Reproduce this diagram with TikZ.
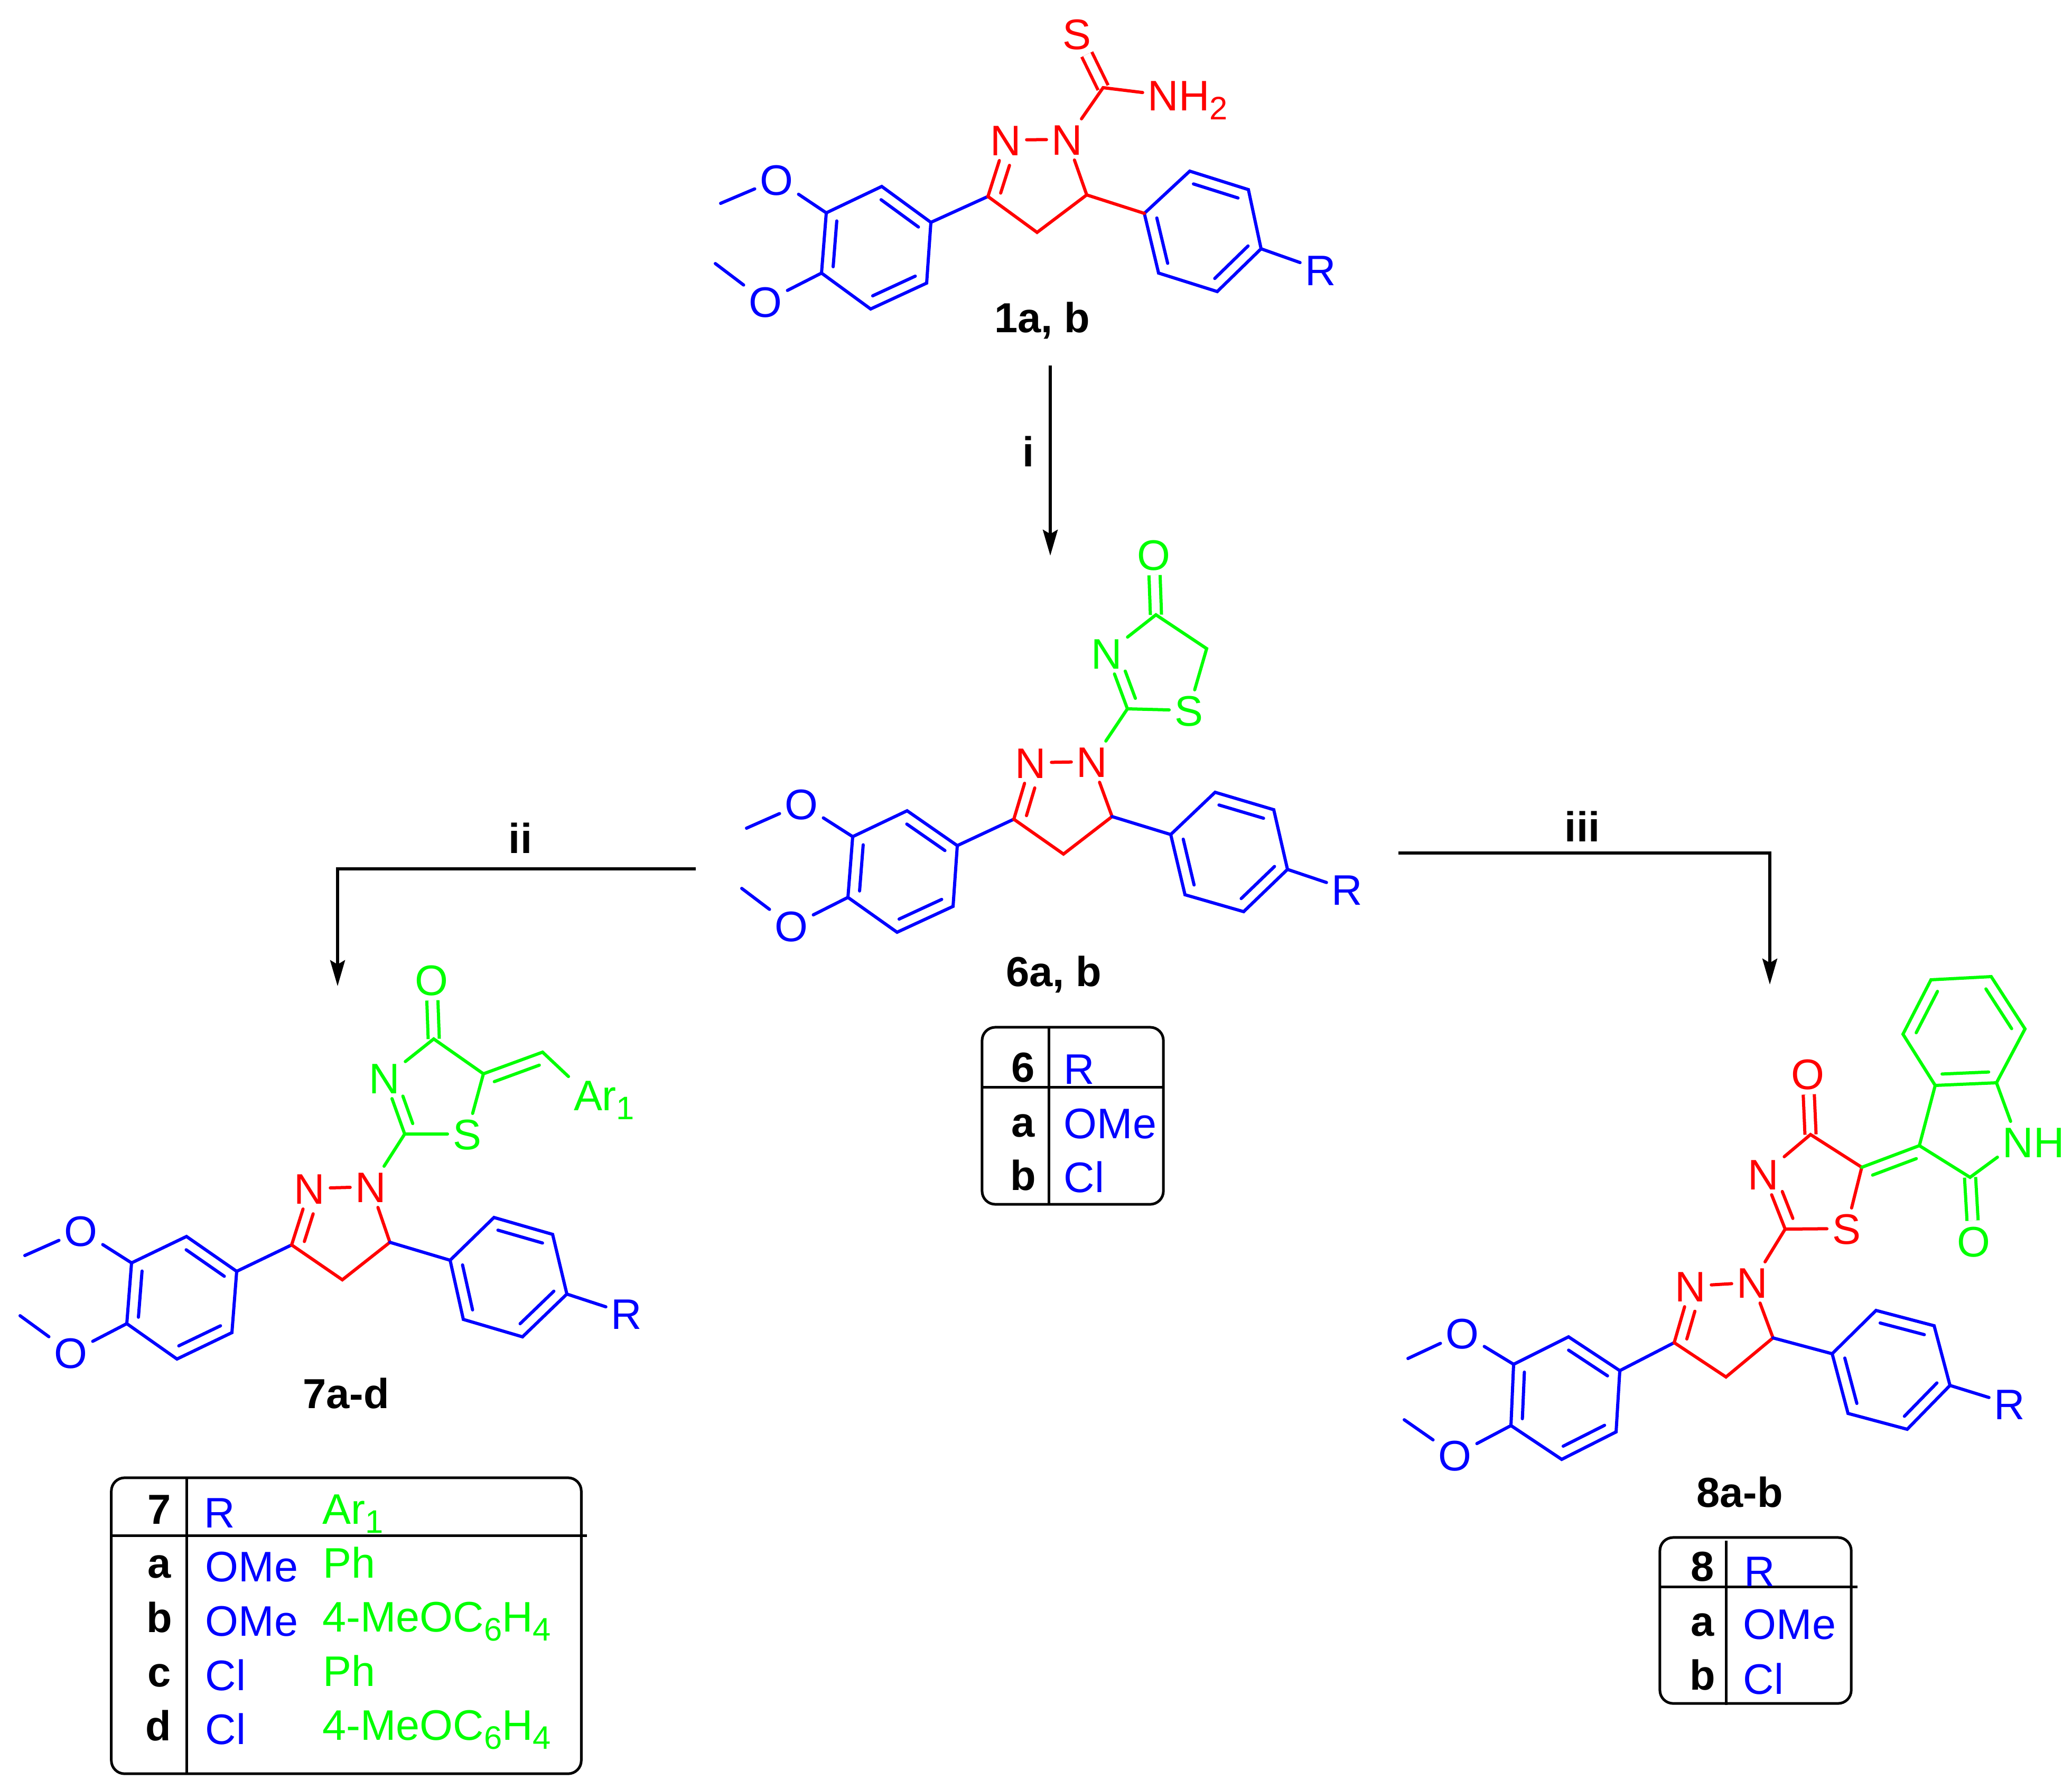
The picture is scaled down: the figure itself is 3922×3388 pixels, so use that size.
\documentclass[tikz,border=0pt]{standalone}
\usepackage{fontspec}
\setmainfont{Liberation Sans}
\usetikzlibrary{arrows.meta, calc}
\tikzset{
  >={Stealth[length=.49cm, width=.28cm, inset=.08cm]},
  every node/.style={font=\fontsize{23pt}{27pt}\selectfont},
  atom/.style={inner sep=.1cm, outer sep=0pt, text height=.58cm, text depth=0pt},
  bond/.style={line width=.06cm, line cap=round},
  dbl/.style={bond, line cap=butt, double, double distance=.15cm},
  reaction/.style={->, line width=.055cm},
  molname/.style={font=\fontsize{22.6pt}{27pt}\selectfont\bfseries, anchor=base, inner sep=0pt},
  tabtext/.style={anchor=base west, inner sep=0pt},
  tablebox/.style={draw, line width=.05cm, rounded corners=.25cm, inner sep=0pt, outer sep=0pt},
  tableline/.style={line width=.05cm},
}
\newcommand{\subnum}[1]{\raisebox{-.22em}{\fontsize{17.5pt}{20pt}\selectfont #1}}
% inner line of a double bond, on the left of a->b
\newcommand{\inbond}[3][.12]{\draw[bond] ($(#2)!#1!(#3)!.21cm!90:(#3)$) -- ($(#3)!.12!(#2)!.21cm!-90:(#2)$);}
% the two aryl rings and the pyrazoline ring
\newcommand{\corebonds}[2]{
  \begin{scope}[blue]
    \draw[bond] (#1B1) -- (#1B2) -- (#1B3) -- (#1B4) -- (#1B5) -- (#1B6) -- cycle;
    \inbond{#1B1}{#1B2}
    \inbond{#1B3}{#1B4}
    \inbond{#1B5}{#1B6}
    \draw[bond] (#1A1) -- (#1A2) -- (#1A3) -- (#1A4) -- (#1A5) -- (#1A6) -- cycle;
    \inbond{#1A3}{#1A2}
    \inbond{#1A5}{#1A4}
    \inbond{#1A1}{#1A6}
    \draw[bond] (#1Me1) -- (#1O1) -- (#1B3);
    \draw[bond] (#1Me2) -- (#1O2) -- (#1B4);
    \draw[bond] (#1A4) -- (#1R);
    \draw[bond] (#1C3) -- (#1B1);
  \end{scope}
  \begin{scope}[red]
    \draw[bond] (#1N1) -- (#1N2);
    \draw[bond] (#1N2) -- (#1C5) -- (#1C4) -- (#1C3) -- (#1N1);
    \inbond[.39]{#1N1}{#1C3}
  \end{scope}
  \draw[bond, #2] (#1C5) -- (#1A1);
}

\begin{document}
\begin{tikzpicture}[x=.01cm, y=-.01cm]
	\useasboundingbox (0,0) rectangle (3922,3388);

	% compound 1
	\coordinate (m1B1) at (1762,421);
	\coordinate (m1B2) at (1669,353);
	\coordinate (m1B3) at (1564,403);
	\coordinate (m1B4) at (1555,517);
	\coordinate (m1B5) at (1648,585);
	\coordinate (m1B6) at (1754,536);
	\coordinate (m1A1) at (2166,404);
	\coordinate (m1A2) at (2252,324);
	\coordinate (m1A3) at (2363,359);
	\coordinate (m1A4) at (2387,471);
	\coordinate (m1A5) at (2304,552);
	\coordinate (m1A6) at (2193,517);
	\coordinate (m1C3) at (1870,372);
	\coordinate (m1C4) at (1963,440);
	\coordinate (m1C5) at (2057,369);
	\coordinate (m1Me1) at (1364,385);
	\coordinate (m1Me2) at (1354,499);
	\coordinate (m1C) at (2088,166);
	\node[atom, blue] (m1O1) at (1470,340) {O};
	\node[atom, blue] (m1O2) at (1449,571) {O};
	\node[atom, blue] (m1R) at (2500,511) {R};
	\node[atom, red] (m1N1) at (1904,265) {N};
	\node[atom, red] (m1N2) at (2020,264) {N};
	\node[atom, red] (m1S) at (2038,64) {S};
	\node[atom, red] (m1NH) at (2202,180) {N\rlap{H\subnum{2}}};
	\draw[dbl, red] (m1S) -- (m1C);
	\draw[bond, red] (m1N2) -- (m1C) -- (m1NH);
	\corebonds{m1}{red}
	\node[molname] (m1name) at (1973,629) {1a, b};

	% compound 6
	\coordinate (m6B1) at (1812,1601);
	\coordinate (m6B2) at (1717,1535);
	\coordinate (m6B3) at (1614,1584);
	\coordinate (m6B4) at (1605,1699);
	\coordinate (m6B5) at (1698,1765);
	\coordinate (m6B6) at (1804,1716);
	\coordinate (m6A1) at (2216,1580);
	\coordinate (m6A2) at (2300,1500);
	\coordinate (m6A3) at (2411,1533);
	\coordinate (m6A4) at (2437,1646);
	\coordinate (m6A5) at (2354,1726);
	\coordinate (m6A6) at (2243,1694);
	\coordinate (m6C3) at (1919,1551);
	\coordinate (m6C4) at (2013,1617);
	\coordinate (m6C5) at (2105,1546);
	\coordinate (m6Me1) at (1413,1568);
	\coordinate (m6Me2) at (1404,1682);
	\coordinate (m6tC2) at (2134,1342);
	\coordinate (m6tC4) at (2188,1164);
	\coordinate (m6tC5) at (2284,1228);
	\node[atom, blue] (m6O1) at (1517,1522) {O};
	\node[atom, blue] (m6O2) at (1498,1753) {O};
	\node[atom, blue] (m6R) at (2550,1684) {R};
	\node[atom, red] (m6N1) at (1951,1444) {N};
	\node[atom, red] (m6N2) at (2067,1442) {N};
	\node[atom, green] (m6tN) at (2095,1237) {N};
	\node[atom, green] (m6tS) at (2250,1345) {S};
	\node[atom, green] (m6tO) at (2184,1050) {O};
	\draw[dbl, green] (m6tO) -- (m6tC4);
	\draw[bond, green] (m6N2) -- (m6tC2) -- (m6tN) -- (m6tC4) -- (m6tC5) -- (m6tS) -- (m6tC2);
	\begin{scope}[green]
		\inbond[.39]{m6tN}{m6tC2}
	\end{scope}
	\corebonds{m6}{blue}
	\node[molname] (m6name) at (1995,1867) {6a, b};

	% compound 7
	\coordinate (m7B1) at (448,2407);
	\coordinate (m7B2) at (353,2341);
	\coordinate (m7B3) at (249,2391);
	\coordinate (m7B4) at (240,2506);
	\coordinate (m7B5) at (335,2573);
	\coordinate (m7B6) at (439,2523);
	\coordinate (m7A1) at (852,2386);
	\coordinate (m7A2) at (935,2305);
	\coordinate (m7A3) at (1046,2337);
	\coordinate (m7A4) at (1073,2450);
	\coordinate (m7A5) at (989,2531);
	\coordinate (m7A6) at (877,2498);
	\coordinate (m7C3) at (552,2357);
	\coordinate (m7C4) at (648,2423);
	\coordinate (m7C5) at (738,2352);
	\coordinate (m7Me1) at (47,2377);
	\coordinate (m7Me2) at (38,2491);
	\coordinate (m7tC2) at (766,2147);
	\coordinate (m7tC4) at (821,1967);
	\coordinate (m7tC5) at (915,2033);
	\coordinate (m7CH) at (1027,1992);
	\node[atom, blue] (m7O1) at (153,2330) {O};
	\node[atom, blue] (m7O2) at (134,2561) {O};
	\node[atom, blue] (m7R) at (1186,2487) {R};
	\node[atom, red] (m7N1) at (586,2250) {N};
	\node[atom, red] (m7N2) at (702,2247) {N};
	\node[atom, green] (m7tN) at (728,2041) {N};
	\node[atom, green] (m7tS) at (884,2147) {S};
	\node[atom, green] (m7tO) at (817,1855) {O};
	\node[atom, green] (m7Ar) at (1113,2073) {A\rlap{r\subnum{1}}};
	\draw[dbl, green] (m7tO) -- (m7tC4);
	\draw[bond, green] (m7N2) -- (m7tC2) -- (m7tN) -- (m7tC4) -- (m7tC5) -- (m7tS) -- (m7tC2);
	\draw[bond, green] (m7tC5) -- (m7CH) -- (m7Ar);
	\begin{scope}[green]
		\inbond[.39]{m7tN}{m7tC2}
		\inbond{m7CH}{m7tC5}
	\end{scope}
	\corebonds{m7}{blue}
	\node[molname] (m7name) at (655,2666) {7a-d};

	% compound 8
	\coordinate (m8B1) at (3066,2595);
	\coordinate (m8B2) at (2969,2531);
	\coordinate (m8B3) at (2865,2583);
	\coordinate (m8B4) at (2860,2699);
	\coordinate (m8B5) at (2956,2763);
	\coordinate (m8B6) at (3059,2711);
	\coordinate (m8A1) at (3468,2563);
	\coordinate (m8A2) at (3551,2481);
	\coordinate (m8A3) at (3661,2510);
	\coordinate (m8A4) at (3691,2623);
	\coordinate (m8A5) at (3610,2706);
	\coordinate (m8A6) at (3498,2676);
	\coordinate (m8C3) at (3169,2542);
	\coordinate (m8C4) at (3267,2607);
	\coordinate (m8C5) at (3356,2533);
	\coordinate (m8Me1) at (2665,2572);
	\coordinate (m8Me2) at (2658,2688);
	\coordinate (m8tC2) at (3379,2327);
	\coordinate (m8tC4) at (3427,2148);
	\coordinate (m8tC5) at (3524,2210);
	\coordinate (m8xC3) at (3633,2169);
	\coordinate (m8xC2) at (3729,2229);
	\coordinate (m8xC3a) at (3663,2055);
	\coordinate (m8xC4) at (3602,1958);
	\coordinate (m8xC5) at (3655,1855);
	\coordinate (m8xC6) at (3769,1849);
	\coordinate (m8xC7) at (3833,1948);
	\coordinate (m8xC7a) at (3779,2050);
	\node[atom, blue] (m8O1) at (2768,2524) {O};
	\node[atom, blue] (m8O2) at (2754,2755) {O};
	\node[atom, blue] (m8R) at (3804,2658) {R};
	\node[atom, red] (m8N1) at (3200,2435) {N};
	\node[atom, red] (m8N2) at (3317,2428) {N};
	\node[atom, red] (m8tN) at (3338,2223) {N};
	\node[atom, red] (m8tS) at (3495,2326) {S};
	\node[atom, red] (m8tO) at (3422,2033) {O};
	\node[atom, green] (m8xO) at (3736,2350) {O};
	\node[atom, green] (m8xN) at (3820,2162) {N\rlap{H}};
	\draw[dbl, red] (m8tO) -- (m8tC4);
	\draw[dbl, green] (m8xO) -- (m8xC2);
	\draw[bond, red] (m8N2) -- (m8tC2) -- (m8tN) -- (m8tC4) -- (m8tC5) -- (m8tS) -- (m8tC2);
	\draw[bond, green] (m8tC5) -- (m8xC3) -- (m8xC2) -- (m8xN) -- (m8xC7a);
	\draw[bond, green] (m8xC3) -- (m8xC3a);
	\draw[bond, green] (m8xC3a) -- (m8xC4) -- (m8xC5) -- (m8xC6) -- (m8xC7) -- (m8xC7a) -- cycle;
	\begin{scope}[red]
		\inbond[.39]{m8tN}{m8tC2}
	\end{scope}
	\begin{scope}[green]
		\inbond{m8xC3}{m8tC5}
		\inbond{m8xC5}{m8xC4}
		\inbond{m8xC7}{m8xC6}
		\inbond{m8xC3a}{m8xC7a}
	\end{scope}
	\corebonds{m8}{blue}
	\node[molname] (m8name) at (3293,2853) {8a-b};

	% reaction arrows
	\coordinate (arrIstart) at (1988,692);
	\coordinate (arrItip) at (1988,1052);
	\coordinate (arrIIstart) at (1317,1645);
	\coordinate (arrIItip) at (639,1867);
	\coordinate (arrIIIstart) at (2647,1615);
	\coordinate (arrIIItip) at (3350,1864);
	\draw[reaction] (arrIstart) -- (arrItip);
	\draw[reaction] (arrIIstart) -| (arrIItip);
	\draw[reaction] (arrIIIstart) -| (arrIIItip);
	\node[molname] (condI) at (1947,883) {i};
	\node[molname] (condII) at (985,1615) {ii};
	\node[molname] (condIII) at (2995,1593) {iii};

	% table 6
	\node[tablebox, minimum width=3.43cm, minimum height=3.35cm] (tab6) at (2030.5,2112.5) {};
	\coordinate (tab6cross) at (1985,2058);
	\draw[tableline] (tab6.west |- tab6cross) -- (tab6.east |- tab6cross);
	\draw[tableline] (tab6.north -| tab6cross) -- (tab6.south -| tab6cross);
	\node[molname] (tab6n) at (1937,2048) {6};
	\node[molname] (tab6a) at (1937,2152) {a};
	\node[molname] (tab6b) at (1937,2253) {b};
	\node[tabtext, blue] (tab6R) at (2013,2052) {R};
	\node[tabtext, blue] (tab6Ra) at (2013,2155) {OMe};
	\node[tabtext, blue] (tab6Rb) at (2013,2257) {Cl};

	% table 7
	\node[tablebox, minimum width=8.89cm, minimum height=5.6cm] (tab7) at (655.5,3078) {};
	\coordinate (tab7cross) at (353,2907);
	\draw[tableline] (tab7.west |- tab7cross) -- ([xshift=.11cm]tab7.east |- tab7cross);
	\draw[tableline] (tab7.north -| tab7cross) -- (tab7.south -| tab7cross);
	\node[molname] (tab7n) at (302,2885) {7};
	\node[molname] (tab7a) at (302,2987) {a};
	\node[molname] (tab7b) at (302,3090) {b};
	\node[molname] (tab7c) at (302,3193) {c};
	\node[molname] (tab7d) at (300,3295) {d};
	\node[tabtext, blue] (tab7R) at (386,2892) {R};
	\node[tabtext, blue] (tab7Ra) at (388,2994) {OMe};
	\node[tabtext, blue] (tab7Rb) at (388,3097) {OMe};
	\node[tabtext, blue] (tab7Rc) at (388,3200) {Cl};
	\node[tabtext, blue] (tab7Rd) at (388,3302) {Cl};
	\node[tabtext, green] (tab7Ar) at (610,2885) {Ar\subnum{1}};
	\node[tabtext, green] (tab7Ara) at (611,2987) {Ph};
	\node[tabtext, green] (tab7Arb) at (610,3089) {4-MeOC\subnum{6}H\subnum{4}};
	\node[tabtext, green] (tab7Arc) at (611,3192) {Ph};
	\node[tabtext, green] (tab7Ard) at (610,3294) {4-MeOC\subnum{6}H\subnum{4}};

	% table 8
	\node[tablebox, minimum width=3.62cm, minimum height=3.14cm] (tab8) at (3323,3068) {};
	\coordinate (tab8cross) at (3267,3004);
	\draw[tableline] (tab8.west |- tab8cross) -- ([xshift=.12cm]tab8.east |- tab8cross);
	\draw[tableline] ([yshift=-.06cm]tab8.north -| tab8cross) -- ([yshift=-.03cm]tab8.south -| tab8cross);
	\node[molname] (tab8n) at (3223,2993) {8};
	\node[molname] (tab8a) at (3223,3097) {a};
	\node[molname] (tab8b) at (3223,3199) {b};
	\node[tabtext, blue] (tab8R) at (3301,3003) {R};
	\node[tabtext, blue] (tab8Ra) at (3299,3103) {OMe};
	\node[tabtext, blue] (tab8Rb) at (3299,3207) {Cl};
\end{tikzpicture}
\end{document}
